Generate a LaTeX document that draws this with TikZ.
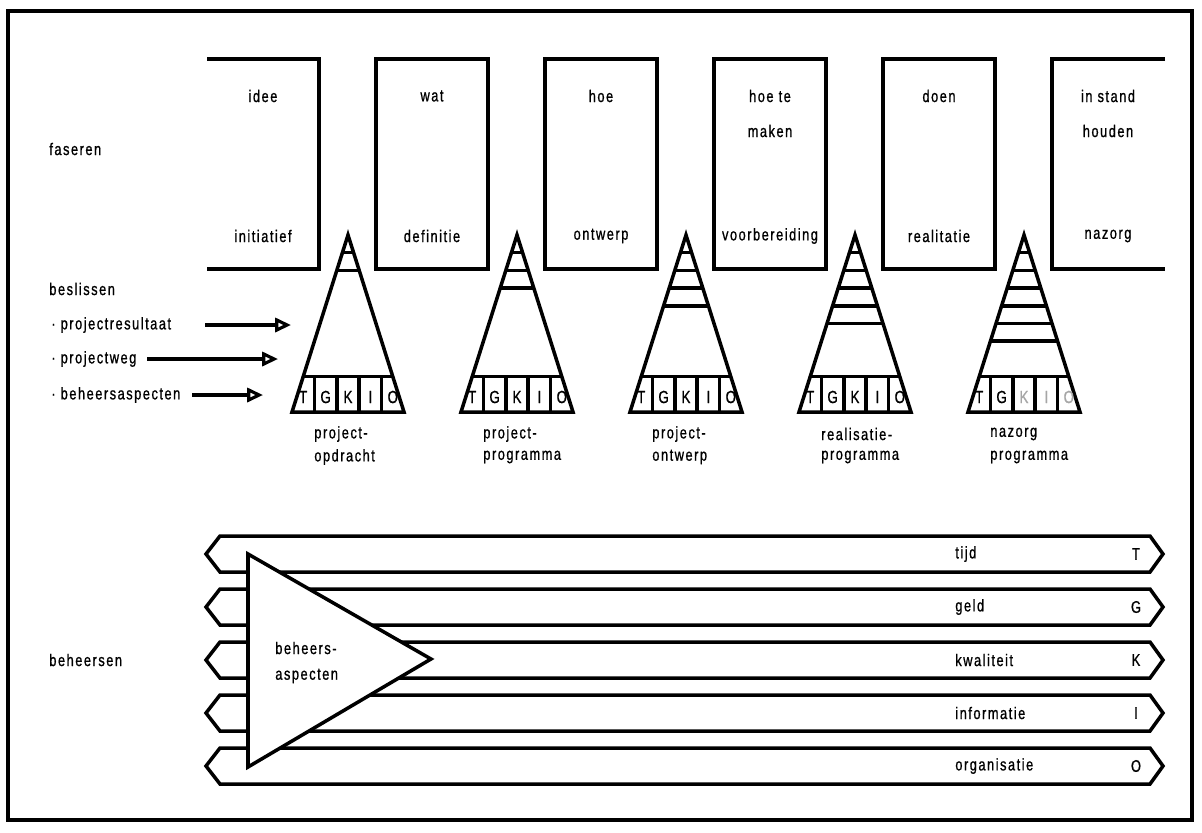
\documentclass[tikz,border=0pt]{standalone}
\usepackage{fontspec}
\setmainfont{Liberation Sans}[FakeStretch=0.76,LetterSpace=9,FakeBold=0.9]
\usepackage{xcolor}
\usepackage{tikz}
\usetikzlibrary{arrows.meta}
\usetikzlibrary{calc}

\tikzset{
	lijn/.style={line width=2pt},
	tekst/.style={font=\fontsize{9.6}{11}\selectfont, inner sep=0pt},
	pijl/.style={line width=2pt, -{Triangle[open,length=9pt,width=8pt,line width=1.8pt]}},
}

\begin{document}
\begin{tikzpicture}[x=0.02cm,y=-0.02cm]
	\useasboundingbox (0,0) rectangle (1202,832);
	\draw[line width=1.8pt] (8,11) rectangle (1192,820);

	% fasen: eerste en laatste blok half open
	\draw[lijn] (207,59) -- (319,59) -- (319,269) -- (207,269);
	\foreach \i in {1,...,4}
		\draw[lijn] (207+169*\i,59) rectangle (319+169*\i,269);
	\draw[lijn] (1165,59) -- (1052,59) -- (1052,269) -- (1165,269);
	\foreach \boven/\onder [count=\i from 0] in {idee/initiatief, wat/definitie, hoe/ontwerp, {hoe te}/voorbereiding, doen/realitatie, {in stand}/nazorg} {
		\node[tekst] (vraag-\i) at (263+169*\i,96) {\boven};
		\node[tekst] (fase-\i) at (263+169*\i,236) {\onder};
	}
	\node[tekst] (vraag-3b) at (770,131) {maken};
	\node[tekst] (vraag-5b) at (1108,131) {houden};

	% linker kolom
	\node[tekst,anchor=west] (faseren) at (49,149) {faseren};
	\node[tekst,anchor=west] (beslissen) at (49,289) {beslissen};
	\node[tekst,anchor=west] (resultaat) at (51,325) {·\ projectresultaat};
	\node[tekst,anchor=west] (weg) at (51,359) {·\ projectweg};
	\node[tekst,anchor=west] (aspecten) at (51,395) {·\ beheersaspecten};
	\node[tekst,anchor=west] (beheersen) at (49,660) {beheersen};

	\coordinate (resultaat-start) at (205,325);
	\coordinate (resultaat-eind) at (291,325);
	\coordinate (weg-start) at (147,359);
	\coordinate (weg-eind) at (278,359);
	\coordinate (aspecten-start) at (192,395);
	\coordinate (aspecten-eind) at (263,395);
	\draw[pijl] (resultaat-start) -- (resultaat-eind);
	\draw[pijl] (weg-start) -- (weg-eind);
	\draw[pijl] (aspecten-start) -- (aspecten-eind);

	% beslisdriehoeken
	\foreach \n [count=\i from 0] in {2,3,4,5,6} {
		\coordinate (top-\i) at (348+169*\i,235);
		\draw[lijn,line join=miter] (top-\i) -- ++(-56,177) -- ++(112,0) -- cycle;
		\foreach \k in {1,...,\n}
			\draw[lijn] ($(top-\i)+(-5.6*\k,17.7*\k)$) -- ++(11.2*\k,0);
		\draw[lijn] ($(top-\i)+(-44.8,141.6)$) -- ++(89.6,0);
		\foreach \j in {1,...,4}
			\draw[lijn] ($(top-\i)+(-56+22.4*\j,141.6)$) -- ++(0,35.4);
		\foreach \c [count=\j from 0] in {T,G,K,I,O}
			\node[tekst,font=\fontsize{10}{12}\selectfont] (cel-\i-\c) at ($(top-\i)+(-44.8+22.4*\j,162)$) {\ifnum\i=4 \ifnum\j>1 \color{black!35}\fi\fi\c};
	}
	\foreach \a/\b [count=\i from 0] in {project-/opdracht, project-/programma, project-/ontwerp, realisatie-/programma, nazorg/programma} {
		\node[tekst,anchor=west] (stuk-\i) at (314+169*\i,434) {\a};
		\node[tekst,anchor=west] (stuk-\i b) at (314+169*\i,457) {\b};
	}

	% beheersaspecten
	\foreach \t/\l [count=\i from 0] in {tijd/T, geld/G, kwaliteit/K, informatie/I, organisatie/O} {
		\draw[lijn] (220,536+53*\i) -- (1150,536+53*\i) -- (1163,554+53*\i) -- (1150,572+53*\i) -- (220,572+53*\i) -- (206,554+53*\i) -- cycle;
		\node[tekst,anchor=west] (aspect-\i) at (955,554+53*\i) {\t};
		\node[tekst] (letter-\i) at (1136,554+53*\i) {\l};
	}
	\draw[lijn,fill=white] (248,554) -- (431,659) -- (248,767) -- cycle;
	\node[tekst,anchor=west] (beheers) at (275,648) {beheers-};
	\node[tekst,anchor=west] (beheers-b) at (275,676) {aspecten};
\end{tikzpicture}
\end{document}
